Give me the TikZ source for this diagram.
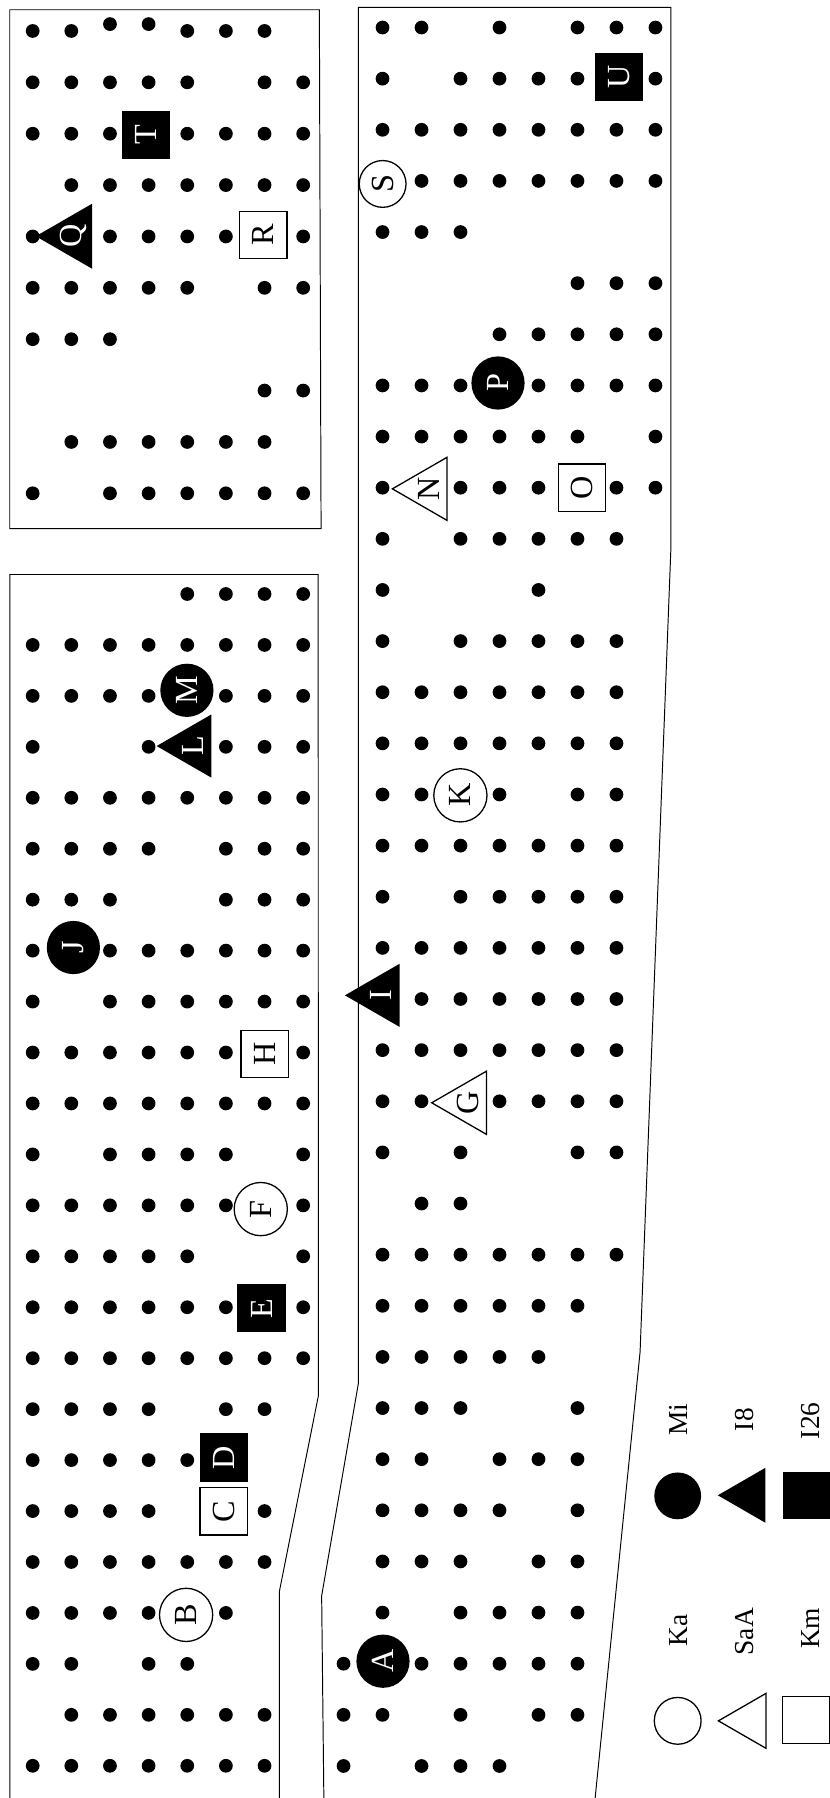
\documentclass[tikz,border=0pt]{standalone}
\usepackage{fontspec}
\setmainfont{Liberation Serif}
\usetikzlibrary{shapes.geometric}
\newcommand{\dotrow}[4]{\foreach \c in {#4} {\fill ({#1+#2*(\c-1)},{#3}) circle[radius=1.5mm];}}
\newcommand{\TLrow}[2]{\dotrow{28.5}{33.7}{27+44.8*(#1-1)}{#2}}
\newcommand{\LLrow}[2]{\dotrow{28.5}{33.7}{518+44.43*(#1-1)}{#2}}
\newcommand{\RBrow}[2]{\dotrow{333.6}{34}{24+44.59*(#1-1)}{#2}}
\begin{document}
\begin{tikzpicture}[x=0.25mm,y=-0.25mm,
  mk/.style={inner sep=0pt, rotate=90, font=\fontsize{20}{24}\selectfont},
  fc/.style={mk, circle, fill=black, text=white, minimum size=11.6mm},
  oc/.style={mk, circle, draw=black, line width=0.8pt, fill=white, minimum size=11.6mm},
  fs/.style={mk, rectangle, fill=black, text=white, minimum size=10.5mm},
  os/.style={mk, rectangle, draw=black, line width=0.8pt, fill=white, minimum size=10.3mm},
  ft/.style={mk, regular polygon, regular polygon sides=3, fill=black, text=white, minimum size=15.9mm},
  ot/.style={mk, regular polygon, regular polygon sides=3, draw=black, line width=0.8pt, fill=white, minimum size=15.9mm},
  frame/.style={line width=0.6pt},
  lbl/.style={rotate=90, inner sep=0pt, font=\fontsize{17}{20}\selectfont}]
\useasboundingbox (0,0) rectangle (723,1568);
% frames
\draw[frame] (8.5,8.5) -- (278.5,8.5) -- (280,461) -- (8.5,461) -- cycle;
\draw[frame] (8.7,1575) -- (8.7,501) -- (277.5,501) -- (277.6,1217.5) -- (243.6,1388) -- (243.6,1575);
\draw[frame] (282.5,1575) -- (280.5,1391.7) -- (312.5,1206.6) -- (312.5,6.5) -- (585,6.5) -- (585,480) -- (558.2,1179) -- (518.3,1575);
% top-left box dots
\TLrow{1}{1,2,5,6,7}
\fill (95.9,21) circle[radius=1.5mm];
\fill (129.6,21) circle[radius=1.5mm];
\TLrow{2}{1,2,3,4,5,7,8}
\TLrow{3}{1,2,3,5,6,7,8}
\TLrow{4}{2,3,4,5,6,7,8}
\TLrow{5}{1,3,4,5,6,8}
\TLrow{6}{1,2,3,4,5,7,8}
\TLrow{7}{1,2,3}
\TLrow{8}{7,8}
\TLrow{9}{2,3,4,5,6,7}
\TLrow{10}{1,3,4,5,6,7,8}
% lower-left box dots
\LLrow{1}{5,6,7,8}
\LLrow{2}{1,2,3,4,5,6,7,8}
\LLrow{3}{1,2,3,4,6,7,8}
\LLrow{4}{1,4,6,7,8}
\LLrow{5}{1,2,3,4,5,6,7,8}
\LLrow{6}{1,2,3,4,6,7,8}
\LLrow{7}{1,2,3,6,7,8}
\LLrow{8}{1,3,4,5,6,7,8}
\LLrow{9}{1,3,4,5,6,7,8}
\LLrow{10}{1,2,3,4,5,6,8}
\LLrow{11}{1,2,3,4,5,6,7,8}
\LLrow{12}{1,3,4,5,6,8}
\LLrow{13}{1,2,3,4,5,6,8}
\LLrow{14}{1,2,3,4,5,8}
\LLrow{15}{1,2,3,4,5,6,8}
\LLrow{16}{1,2,3,4,5,6,7,8}
\LLrow{17}{1,2,3,4,6,7}
\LLrow{18}{1,2,3,4,5}
\LLrow{19}{1,2,3,4,7}
\LLrow{20}{1,2,3,4,5,6,7}
\LLrow{21}{1,2,3,4,6}
\LLrow{22}{1,2,4,5}
\LLrow{23}{2,3,4,5,6,7}
\LLrow{24}{1,2,3,4,5,6,7}
% right box dots
\RBrow{1}{1,2,4,6,7,8}
\RBrow{2}{1,3,4,5,6,8}
\RBrow{3}{1,2,3,4,5,6,7,8}
\RBrow{4}{2,3,4,5,6,7,8}
\RBrow{5}{1,2,3}
\RBrow{6}{6,7,8}
\RBrow{7}{4,5,6,7,8}
\RBrow{8}{1,2,3,5,6,7,8}
\RBrow{9}{1,2,3,4,5,6,8}
\RBrow{10}{1,3,4,5,7,8}
\RBrow{11}{1,3,4,5,6,7}
\RBrow{12}{1,5}
\RBrow{13}{1,3,4,5,6,7}
\RBrow{14}{1,2,3,4,5,6,7}
\RBrow{15}{1,2,3,4,5,6,7}
\RBrow{16}{1,2,4,6,7}
\RBrow{17}{1,2,3,4,5,6,7}
\RBrow{18}{1,3,4,5,6,7}
\RBrow{19}{1,2,3,4,5,6,7}
\RBrow{20}{2,3,4,5,6,7}
\RBrow{21}{1,2,3,4,5,6,7}
\RBrow{22}{1,2,4,5,6,7}
\RBrow{23}{1,3,6,7}
\RBrow{24}{2,3}
\RBrow{25}{1,2,3,4,5,6,7}
\RBrow{26}{1,2,3,4,5,6}
\RBrow{27}{1,2,3,4,5}
\RBrow{28}{1,2,3,6}
\RBrow{29}{1,2,4,5,6}
\RBrow{30}{1,2,3,4,6}
\RBrow{31}{1,2,3,5,6}
\RBrow{32}{1,3,4,5,6}
\RBrow{33}{0,2,3,4,5,6}
\RBrow{34}{0,1,3,5,6}
\RBrow{35}{0,2,3,4}
% markers
\node[fs] (T) at (127.2,117.8) {T};
\node[ft] (Q) at (64,206) {Q};
\node[os] (R) at (229.7,204.9) {R};
\node[fs] (U) at (539.5,67) {U};
\node[oc, minimum size=10.2mm] (S) at (333.7,160.4) {S};
\node[fc] (P) at (434.3,334) {P};
\node[ot] (N) at (374,426.3) {N};
\node[os] (O) at (507.6,425.3) {O};
\node[ft] (L) at (168.4,650.6) {L};
\node[fc] (M) at (163,602) {M};
\node[fc] (J) at (64,826.3) {J};
\node[os] (H) at (230.7,919) {H};
\node[oc] (K) at (401.5,693.6) {K};
\node[ft] (I) at (332.6,868) {I};
\node[ot] (G) at (408.3,961.7) {G};
\node[oc] (F) at (227.4,1054.4) {F};
\node[fs] (E) at (228,1141) {E};
\node[fs] (D) at (195,1271) {D};
\node[os] (C) at (195,1318) {C};
\node[oc] (B) at (162.3,1408.3) {B};
\node[fc] (A) at (334,1448.7) {A};
% legend
\node[fc, minimum size=10.2mm] (lgMi) at (591,1304.5) {};
\node[lbl] (tMi) at (592,1238) {Mi};
\node[ft, minimum size=13.85mm] (lgI8) at (653.7,1304) {};
\node[lbl] (tI8) at (649,1238) {I8};
\node[fs, minimum size=10.2mm] (lgI26) at (703,1304.5) {};
\node[lbl] (tI26) at (707,1239) {I26};
\node[oc, minimum size=10.2mm] (lgKa) at (591,1500.7) {};
\node[lbl] (tKa) at (592,1422) {Ka};
\node[ot, minimum size=13.85mm] (lgSaA) at (654.2,1500.7) {};
\node[lbl] (tSaA) at (649,1423) {SaA};
\node[os, minimum size=10.2mm] (lgKm) at (703,1500) {};
\node[lbl] (tKm) at (707,1420) {Km};
\end{tikzpicture}
\end{document}
